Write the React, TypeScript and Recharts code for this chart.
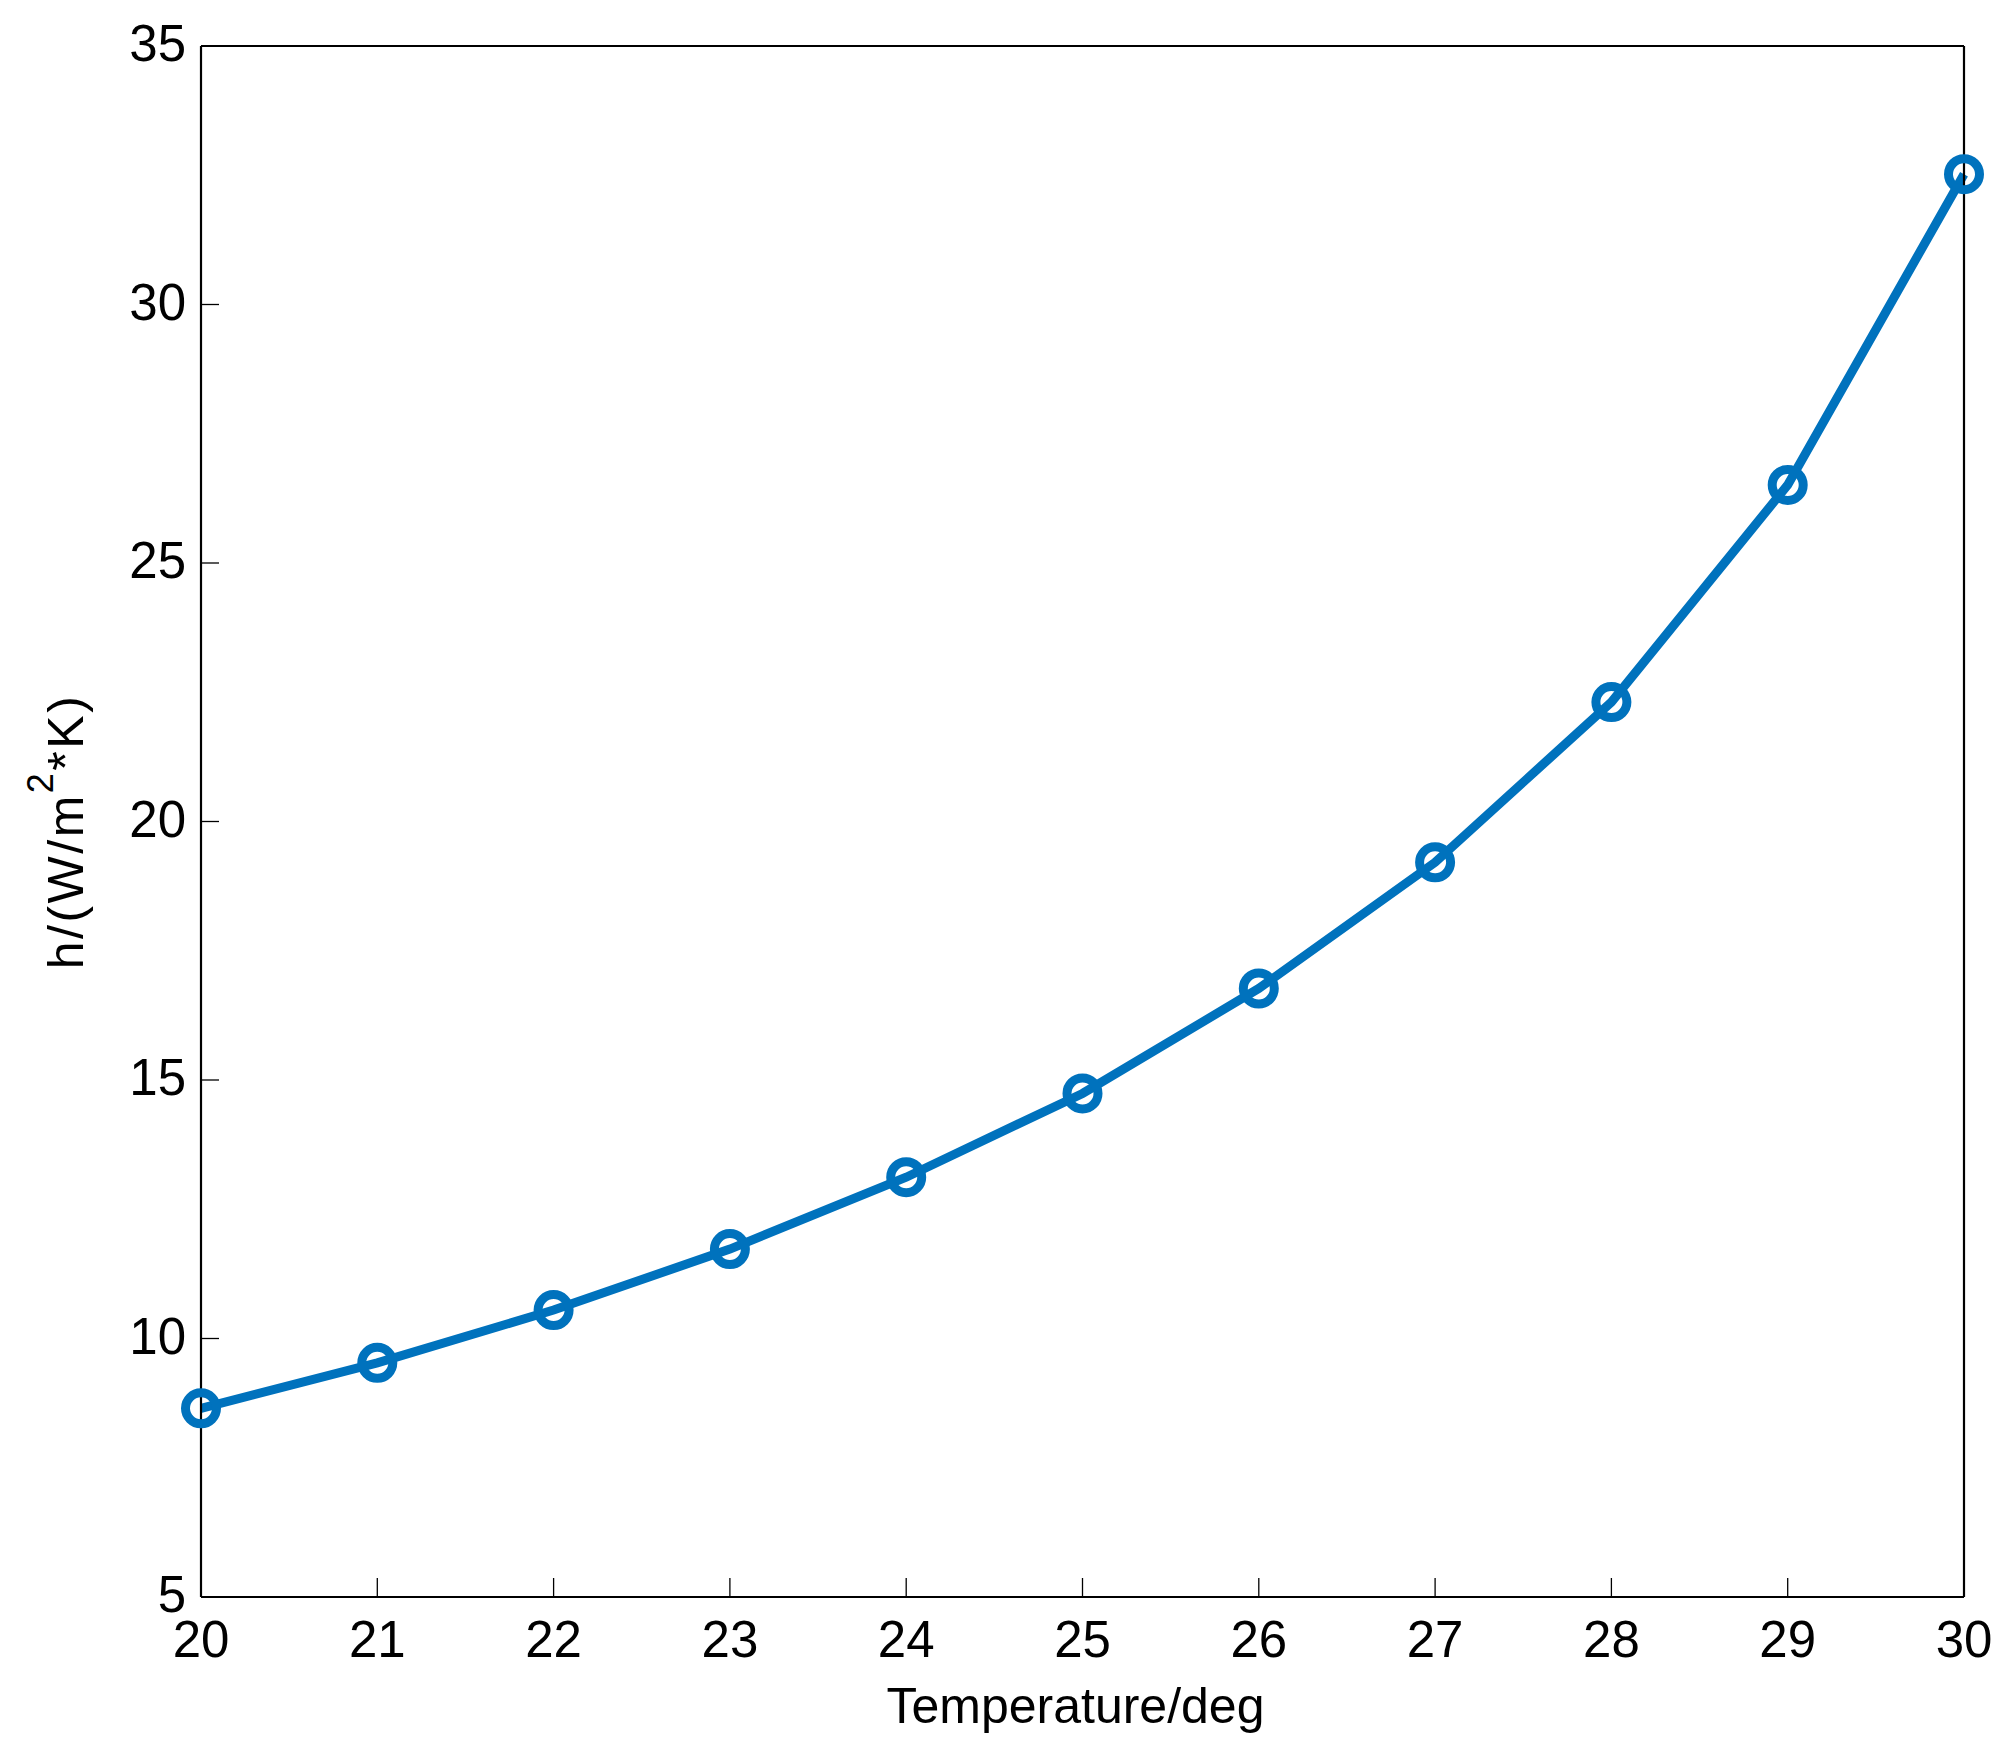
import React from "react";
import { LineChart, Line, XAxis, YAxis } from "recharts";

// temperature (deg) vs heat transfer coefficient h (W/m^2*K)
const TEMPS = [20, 21, 22, 23, 24, 25, 26, 27, 28, 29, 30];
const H_VALUES = [8.65, 9.53, 10.55, 11.73, 13.12, 14.74, 16.77, 19.21, 22.31, 26.51, 32.52];
const X_TICKS = [20, 21, 22, 23, 24, 25, 26, 27, 28, 29, 30];
const Y_TICKS = [5, 10, 15, 20, 25, 30, 35];

const data = TEMPS.map((t, i) => ({ t, h: H_VALUES[i] }));

const BLUE = "#0072BD";
const FONT = "'Liberation Sans', Arial, Helvetica, sans-serif";

// ticks drawn inward, matlab style
// eslint-disable-next-line @typescript-eslint/no-explicit-any
function BottomTick(props: any) {
  const { x, y, payload } = props;
  return (
    <g>
      <line x1={x} y1={y} x2={x} y2={y - 19} stroke="#000" strokeWidth={1.3} />
      <text x={x} y={y + 60} textAnchor="middle" fontSize={51} fontFamily={FONT} fill="#000">
        {payload.value}
      </text>
    </g>
  );
}

// eslint-disable-next-line @typescript-eslint/no-explicit-any
function TopTick(props: any) {
  const { x, y } = props;
  return <line x1={x} y1={y} x2={x} y2={y + 18} stroke="#000" strokeWidth={1.3} />;
}

// eslint-disable-next-line @typescript-eslint/no-explicit-any
function LeftTick(props: any) {
  const { x, y, payload } = props;
  return (
    <g>
      <line x1={x} y1={y} x2={x + 18} y2={y} stroke="#000" strokeWidth={1.3} />
      <text x={x - 15} y={y + 15} textAnchor="end" fontSize={51} fontFamily={FONT} fill="#000">
        {payload.value}
      </text>
    </g>
  );
}

// eslint-disable-next-line @typescript-eslint/no-explicit-any
function RightTick(props: any) {
  const { x, y } = props;
  return <line x1={x} y1={y} x2={x - 19} y2={y} stroke="#000" strokeWidth={1.3} />;
}

// eslint-disable-next-line @typescript-eslint/no-explicit-any
function XLabel(props: any) {
  const vb = props.viewBox;
  return (
    <text
      x={vb.x + vb.width / 2 - 7}
      y={vb.y + 126}
      textAnchor="middle"
      fontSize={50}
      fontFamily={FONT}
      fill="#000"
    >
      Temperature/deg
    </text>
  );
}

// eslint-disable-next-line @typescript-eslint/no-explicit-any
function YLabel(props: any) {
  const vb = props.viewBox;
  const cx = vb.x - 18;
  const cy = vb.y + vb.height / 2 + 10;
  return (
    <text
      x={cx}
      y={cy}
      transform={`rotate(-90 ${cx} ${cy})`}
      textAnchor="middle"
      fontSize={50}
      fontFamily={FONT}
      letterSpacing={2.5}
      fill="#000"
    >
      <tspan>h/(W/m</tspan>
      <tspan dy={-30} fontSize={36}>2</tspan>
      <tspan dy={30}>*K)</tspan>
    </text>
  );
}

const AXIS_LINE = { stroke: "#000", strokeWidth: 2.2 };

export default function App() {
  return (
    <div style={{ position: "absolute", left: 0, top: 0, width: 2014, height: 1760, background: "#fff" }}>
      <LineChart
        width={2014}
        height={1760}
        data={data}
        margin={{ top: 36, right: 40, bottom: 103, left: 101 }}
      >
        <XAxis
          dataKey="t"
          type="number"
          domain={[20, 30]}
          ticks={X_TICKS}
          interval={0}
          height={60}
          tickSize={0}
          tickMargin={0}
          tickLine={false}
          axisLine={AXIS_LINE}
          tick={<BottomTick />}
          label={<XLabel />}
        />
        <XAxis
          xAxisId="top"
          orientation="top"
          type="number"
          domain={[20, 30]}
          ticks={X_TICKS}
          interval={0}
          height={10}
          tickSize={0}
          tickMargin={0}
          tickLine={false}
          axisLine={AXIS_LINE}
          tick={<TopTick />}
        />
        <YAxis
          type="number"
          domain={[5, 35]}
          ticks={Y_TICKS}
          interval={0}
          width={100}
          tickSize={0}
          tickMargin={0}
          tickLine={false}
          axisLine={AXIS_LINE}
          tick={<LeftTick />}
          label={<YLabel />}
        />
        <YAxis
          yAxisId="right"
          orientation="right"
          type="number"
          domain={[5, 35]}
          ticks={Y_TICKS}
          interval={0}
          width={10}
          tickSize={0}
          tickMargin={0}
          tickLine={false}
          axisLine={AXIS_LINE}
          tick={<RightTick />}
        />
        <Line
          type="linear"
          dataKey="h"
          stroke={BLUE}
          strokeWidth={9}
          dot={{ r: 15.5, stroke: BLUE, strokeWidth: 9, fill: "none" }}
          activeDot={false}
          isAnimationActive={false}
        />
      </LineChart>
    </div>
  );
}
